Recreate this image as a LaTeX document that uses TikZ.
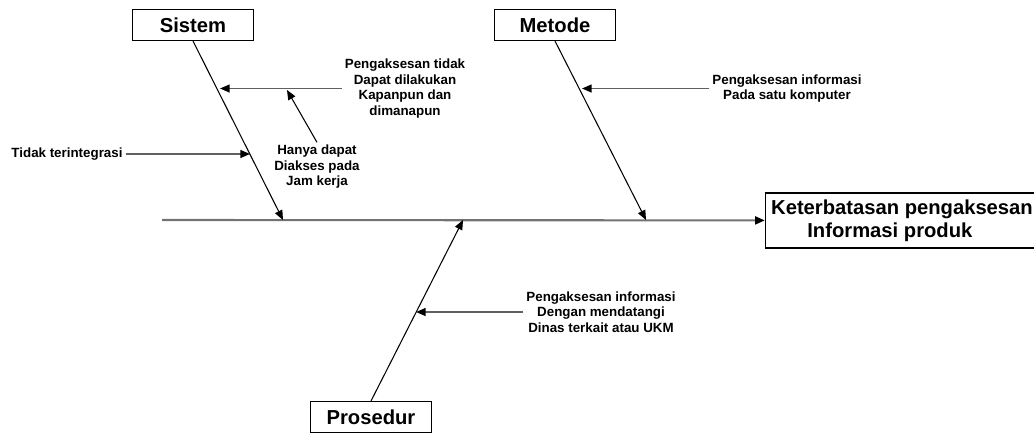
\documentclass[tikz,border=0pt]{standalone}
\usepackage{fontspec}
\setmainfont{Liberation Sans}
\usetikzlibrary{arrows.meta}

\begin{document}
\begin{tikzpicture}[x=0.02cm, y=-0.02cm,
  cause/.style={rectangle, draw=black, line width=0.6pt, minimum width=2.42cm, minimum height=0.62cm, text centered, font=\fontsize{11.5}{13}\selectfont\bfseries},
  effect/.style={rectangle, draw=black, line width=0.6pt, minimum width=5.4cm, minimum height=1.1cm, align=center, font=\fontsize{11.5}{13.2}\selectfont\bfseries},
  note/.style={align=center, inner sep=1.5pt, font=\fontsize{7.6}{8.8}\selectfont\bfseries},
  spine/.style={draw=gray!90!black, line width=1.2pt, -{Triangle[length=5.5pt,width=4.5pt,color=black]}},
  bone/.style={draw=black, line width=0.6pt, -{Triangle[length=5.5pt,width=4.5pt]}},
  sub/.style={draw=gray!75!black, line width=0.9pt, -{Triangle[length=5.5pt,width=4.5pt,color=black]}}]
\useasboundingbox (0,0) rectangle (1034,433);

\node (sistem) [cause] at (193,25) {Sistem};
\node (metode) [cause] at (555,25) {Metode};
\node (prosedur) [cause] at (371,417) {Prosedur};
\node (masalah) [effect] at (902,220.5) {Keterbatasan pengaksesan\\ Informasi produk\hspace*{1.2em}};

\coordinate (ekor) at (162,220);
\coordinate (sistemujung) at (283,220);
\coordinate (metodeujung) at (646,220);
\coordinate (prosedurujung) at (463,220);

\node (tidakakses) [note] at (405,88.5) {Pengaksesan tidak\\ Dapat dilakukan\\ Kapanpun dan\\ dimanapun};
\node (jamkerja) [note] at (317,167) {Hanya dapat\\ Diakses pada\\ Jam kerja};
\node (integrasi) [note] at (67,154) {Tidak terintegrasi};
\node (satukomp) [note] at (787,88.5) {Pengaksesan informasi\\ Pada satu komputer};
\node (dinas) [note] at (601,312) {Pengaksesan informasi\\ Dengan mendatangi\\ Dinas terkait atau UKM};

\coordinate (s1) at (220,88.5);
\coordinate (s2) at (250,154);
\coordinate (s3) at (287,90);
\coordinate (m1) at (582,88.5);
\coordinate (p1) at (416,312);

\draw[spine] (ekor) -- (masalah);
\draw[bone] (sistem.south) -- (sistemujung);
\draw[bone] (metode.south) -- (metodeujung);
\draw[bone] (prosedur.north) -- (prosedurujung);

\draw[sub] (tidakakses.west) -- (s1);
\draw[sub] (integrasi.east) -- (s2);
\draw[bone] (jamkerja.north) -- (s3);
\draw[sub] (satukomp.west) -- (m1);
\draw[sub] (dinas.west) -- (p1);

\end{tikzpicture}
\end{document}
